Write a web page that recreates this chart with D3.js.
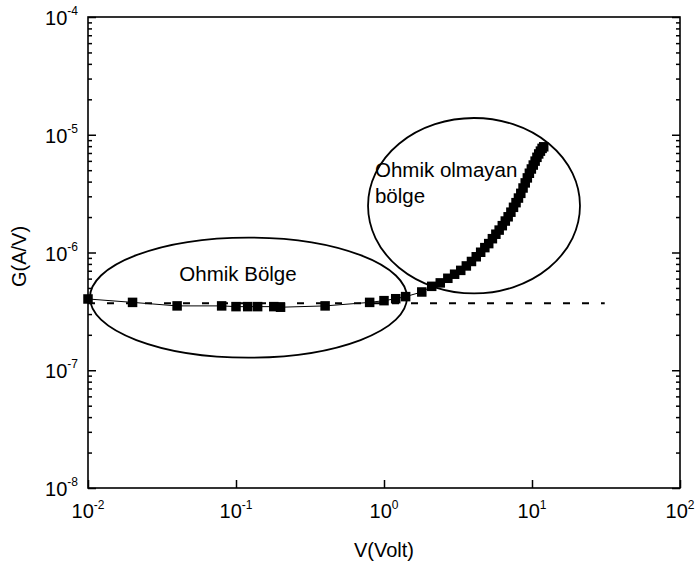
<!DOCTYPE html>
<html>
<head>
<meta charset="utf-8">
<script src="https://cdn.jsdelivr.net/npm/d3@7"></script>
<style>
  body { margin: 0; background: #fff; }
  svg { display: block; font-family: "Liberation Sans", Arial, sans-serif; }
</style>
</head>
<body>
<svg id="chart" width="698" height="567"></svg>
<script>
"use strict";

// Measured points: voltage (V) and conductance (A/V)
const voltage = [
  0.01, 0.02, 0.04, 0.08, 0.1, 0.12, 0.14, 0.18, 0.2, 0.4, 0.8, 1.0, 1.2, 1.4,
  1.8, 2.1, 2.4, 2.7, 3.0, 3.3, 3.6, 3.9, 4.2, 4.5, 4.8, 5.1, 5.4, 5.7, 6.0,
  6.3, 6.6, 6.9, 7.2, 7.5, 7.8, 8.1, 8.4, 8.7, 9.0, 9.3, 9.6, 9.9, 10.2, 10.5,
  10.8, 11.1, 11.4, 11.7, 12.0
];
const conductance = [
  4.03e-7, 3.77e-7, 3.52e-7, 3.52e-7, 3.47e-7, 3.47e-7, 3.47e-7, 3.47e-7, 3.43e-7,
  3.52e-7, 3.77e-7, 3.90e-7, 4.05e-7, 4.22e-7,
  4.62e-7, 5.16e-7, 5.52e-7, 6.04e-7, 6.54e-7, 7.05e-7, 7.69e-7, 8.39e-7, 9.2e-7,
  1.005e-6, 1.10e-6, 1.19e-6, 1.31e-6, 1.43e-6, 1.55e-6, 1.69e-6, 1.85e-6, 2.01e-6,
  2.20e-6, 2.42e-6, 2.65e-6, 2.90e-6, 3.18e-6, 3.53e-6, 3.90e-6, 4.30e-6, 4.71e-6,
  5.12e-6, 5.53e-6, 5.97e-6, 6.43e-6, 6.87e-6, 7.26e-6, 7.66e-6, 7.9e-6
];

// Ohmic fit (dashed) line
const fitV = [0.01, 31];
const fitG = [3.7e-7, 3.7e-7];

const xTicks = [0.01, 0.1, 1, 10, 100];
const xTickExp = ["-2", "-1", "0", "1", "2"];
const yTicks = [1e-8, 1e-7, 1e-6, 1e-5, 1e-4];
const yTickExp = ["-8", "-7", "-6", "-5", "-4"];

// Region outlines given as bounding boxes in data units
const regions = [
  {vMin: 0.0103, vMax: 1.43, gMin: 1.28e-7, gMax: 1.34e-6},
  {vMin: 0.78, vMax: 21.1, gMin: 4.49e-7, gMax: 1.387e-5}
];
const regionLabels = [
  {lines: ["Ohmik Bölge"], v: 0.0414, g: 5.73e-7},
  {lines: ["Ohmik olmayan", "bölge"], v: 0.869, g: 4.38e-6}
];

const plotLeft = 88, plotRight = 680, plotTop = 17, plotBottom = 488;
const svg = d3.select("#chart");

const x = d3.scaleLog().domain([0.01, 100]).range([plotLeft, plotRight]);
const y = d3.scaleLog().domain([1e-8, 1e-4]).range([plotBottom, plotTop]);

// minor tick values for the y axis
let yMinor = [];
for (let e = -8; e < -4; e++) {
  for (let k = 2; k <= 9; k++) {
    yMinor.push(k * Math.pow(10, e));
  }
}

function styleAxis(g) {
  g.select(".domain").remove();
  g.selectAll("line").attr("stroke", "#000").attr("stroke-width", 1.5);
}

// minor ticks
svg.append("g").attr("transform", `translate(${plotLeft},0)`)
  .call(d3.axisLeft(y).tickValues(yMinor).tickSize(-4).tickFormat(""))
  .call(styleAxis);
svg.append("g").attr("transform", `translate(${plotRight},0)`)
  .call(d3.axisRight(y).tickValues(yMinor).tickSize(-4).tickFormat(""))
  .call(styleAxis);

// major ticks
svg.append("g").attr("transform", `translate(${plotLeft},0)`)
  .call(d3.axisLeft(y).tickValues(yTicks).tickSize(-8).tickFormat(""))
  .call(styleAxis);
svg.append("g").attr("transform", `translate(${plotRight},0)`)
  .call(d3.axisRight(y).tickValues(yTicks).tickSize(-8).tickFormat(""))
  .call(styleAxis);
svg.append("g").attr("transform", `translate(0,${plotBottom})`)
  .call(d3.axisBottom(x).tickValues(xTicks).tickSize(-8).tickFormat(""))
  .call(styleAxis);

// frame
svg.append("rect")
  .attr("x", plotLeft).attr("y", plotTop)
  .attr("width", plotRight - plotLeft).attr("height", plotBottom - plotTop)
  .attr("fill", "none").attr("stroke", "#000").attr("stroke-width", 1.6);

// tick labels with superscripts
xTicks.forEach((v, i) => {
  let t = svg.append("text")
    .attr("x", x(v)).attr("y", plotBottom + 30)
    .attr("text-anchor", "middle")
    .attr("font-size", 20);
  t.append("tspan").text("10");
  t.append("tspan").attr("font-size", 12).attr("dy", -9).text(xTickExp[i]);
});
yTicks.forEach((v, i) => {
  let t = svg.append("text")
    .attr("x", plotLeft - 10).attr("y", y(v) + 8)
    .attr("text-anchor", "end")
    .attr("font-size", 20);
  t.append("tspan").text("10");
  t.append("tspan").attr("font-size", 12).attr("dy", -10).text(yTickExp[i]);
});

// axis titles
svg.append("text")
  .attr("x", x(1)).attr("y", 557)
  .attr("text-anchor", "middle")
  .attr("font-size", 20)
  .text("V(Volt)");
svg.append("text")
  .attr("transform", `translate(26,${(plotTop + plotBottom) / 2 + 4}) rotate(-90)`)
  .attr("text-anchor", "middle")
  .attr("font-size", 20)
  .text("G(A/V)");

// dashed ohmic line
const fitLine = d3.line().x(d => x(d[0])).y(d => y(d[1]));
svg.append("path")
  .datum(d3.zip(fitV, fitG))
  .attr("d", fitLine)
  .attr("fill", "none")
  .attr("stroke", "#000")
  .attr("stroke-width", 2)
  .attr("stroke-dasharray", "7,12");

// data line + markers
const points = d3.zip(voltage, conductance);
svg.append("path")
  .datum(points)
  .attr("d", fitLine)
  .attr("fill", "none")
  .attr("stroke", "#000")
  .attr("stroke-width", 1);

const size = 9.5;
svg.append("g")
  .selectAll("rect")
  .data(points)
  .join("rect")
  .attr("x", d => x(d[0]) - size / 2)
  .attr("y", d => y(d[1]) - size / 2)
  .attr("width", size)
  .attr("height", size)
  .attr("fill", "#000");

// region outlines
svg.append("g")
  .selectAll("ellipse")
  .data(regions)
  .join("ellipse")
  .attr("cx", d => (x(d.vMin) + x(d.vMax)) / 2)
  .attr("cy", d => (y(d.gMin) + y(d.gMax)) / 2)
  .attr("rx", d => (x(d.vMax) - x(d.vMin)) / 2)
  .attr("ry", d => (y(d.gMin) - y(d.gMax)) / 2)
  .attr("fill", "none")
  .attr("stroke", "#000")
  .attr("stroke-width", 1.8);

// region labels
for (let lab of regionLabels) {
  let t = svg.append("text")
    .attr("x", x(lab.v)).attr("y", y(lab.g))
    .attr("font-size", 20.5);
  lab.lines.forEach((s, i) => {
    t.append("tspan")
      .attr("x", x(lab.v))
      .attr("dy", i === 0 ? 0 : 26)
      .text(s);
  });
}
</script>
</body>
</html>
